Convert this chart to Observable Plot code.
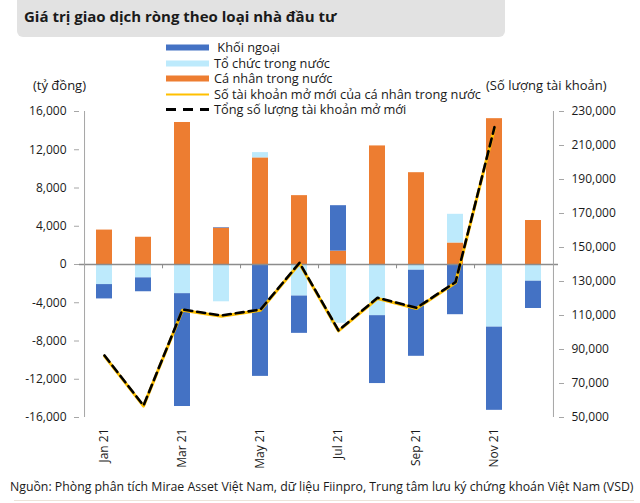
<!DOCTYPE html>
<html><head><meta charset="utf-8">
<script src="https://cdn.jsdelivr.net/npm/d3@7"></script>
<script src="https://cdn.jsdelivr.net/npm/@observablehq/plot@0.6"></script>
<style>
body{margin:0;background:#fff;font-family:"Open Sans",sans-serif;color:#1a1a1a;}
#wrap{position:relative;width:640px;height:503px;overflow:hidden;}
#title{position:absolute;left:17px;top:0;width:488px;height:37px;background:#e2e2e2;border-radius:0 0 6px 6px;}
#title span{position:absolute;left:7px;top:7px;font-weight:700;font-size:15px;line-height:18px;white-space:nowrap;}
#legend{position:absolute;left:166px;top:40px;font-size:12.8px;}
.row{height:15.5px;display:flex;align-items:center;white-space:pre;}
.row span{display:inline-block;line-height:13px;height:13px;}
.sw{width:43px;height:15px;margin-right:5px;position:relative;}
.unit{position:absolute;font-size:13px;line-height:14px;white-space:nowrap;}
#caption{position:absolute;left:10px;top:480px;font-size:12.3px;line-height:14px;white-space:nowrap;}
#rule{position:absolute;left:14px;right:6px;top:500px;height:1px;background:#ece4da;}
#chart{position:absolute;left:0;top:0;}
</style></head>
<body><div id="wrap">
<div id="chart"></div>
<div id="title"><span></span></div>
<div id="legend"></div>
<div class="unit" id="uL" style="left:33px;top:78px"></div>
<div class="unit" id="uR" style="left:486px;top:78px"></div>
<div id="caption"></div>
<div id="rule"></div>
</div>
<script>
const titleText = "Giá trị giao dịch ròng theo loại nhà đầu tư";
const captionText = "Nguồn: Phòng phân tích Mirae Asset Việt Nam, dữ liệu Fiinpro, Trung tâm lưu ký chứng khoán Việt Nam (VSD)";
const leftUnit = "(tỷ đồng)";
const rightUnit = "(Số lượng tài khoản)";

const months = ["Jan 21","Feb 21","Mar 21","Apr 21","May 21","Jun 21","Jul 21","Aug 21","Sep 21","Oct 21","Nov 21","Dec 21"];
const xTickLabels = ["Jan 21","Mar 21","May 21","Jul 21","Sep 21","Nov 21"];

const seriesNames = ["Khối ngoại","Tổ chức trong nước","Cá nhân trong nước"];
const khoiNgoai = [-1500,-1450,-11800,60,-11700,-3900,4750,-7100,-9000,-5250,-8700,-2850];
const toChuc    = [-2100,-1400,-3050,-3900,550,-3300,-6150,-5350,-600,3000,-6550,-1750];
const caNhan    = [3600,2850,14850,3800,11150,7200,1400,12400,9600,2250,15250,4600];

const lineNames = ["Số tài khoản mở mới của cá nhân trong nước","Tổng số lượng tài khoản mở mới"];
const lineMonths = months.slice(0, 11);
const tkCaNhan = [86100,56700,113100,109600,113100,140600,100900,120000,114100,129200,220300];
const tkTong   = [86500,57000,113500,110000,113500,141000,101200,120400,114500,129600,220800];

const leftTicks = [-16000,-12000,-8000,-4000,0,4000,8000,12000,16000];
const rightTicks = [50000,70000,90000,110000,130000,150000,170000,190000,210000,230000];

const colors = {"Khối ngoại":"#4472c4","Tổ chức trong nước":"#bdeafc","Cá nhân trong nước":"#ed7d31"};
const lineColors = ["#ffc000","#000000"];

// mapping right axis onto left
const L0 = -16000, L1 = 16000, R0 = 50000, R1 = 230000;
const toLeft = v => L0 + (v - R0) * (L1 - L0) / (R1 - R0);
const fromLeft = v => R0 + (v - L0) * (R1 - R0) / (L1 - L0);
const fmt = d => (d < 0 ? "-" : "") + d3.format(",")(Math.abs(Math.round(d)));

const bars = [];
months.forEach((m, i) => {
  bars.push({month: m, series: "Cá nhân trong nước", value: caNhan[i]});
  bars.push({month: m, series: "Tổ chức trong nước", value: toChuc[i]});
  bars.push({month: m, series: "Khối ngoại", value: khoiNgoai[i]});
});
const lines = lineMonths.map((m, i) => ({month: m, caNhan: tkCaNhan[i], tong: tkTong[i]}));

const W = 640, H = 470, mL = 79, mR = 82, mT = 111, mB = 53;
const step = (W - mL - mR) / months.length;

const chart = Plot.plot({
  width: W, height: H,
  marginLeft: mL, marginRight: mR, marginTop: mT, marginBottom: mB,
  style: {fontFamily: "Open Sans", fontSize: "12px", color: "#1a1a1a", background: "transparent"},
  x: {domain: months, paddingInner: 0.6, paddingOuter: 0.3, axis: null},
  y: {domain: [L0, L1], axis: null},
  color: {domain: seriesNames, range: seriesNames.map(s => colors[s])},
  marks: [
    Plot.barY(bars, Plot.stackY({x: "month", y: "value", fill: "series", order: ["Cá nhân trong nước","Tổ chức trong nước","Khối ngoại"]})),
    Plot.ruleY([0], {stroke: "#8c8c8c", strokeWidth: 1.3}),
    Plot.ruleX(xTickLabels, {x: d => d, y1: 0, y2: -450, dx: -step/2, stroke: "#8c8c8c"}),
    Plot.ruleX([months[0]], {x: d => d, y1: L0, y2: L1, dx: -step/2, stroke: "#a6a6a6"}),
    Plot.ruleX([months[months.length-1]], {x: d => d, y1: L0, y2: L1, dx: step/2, stroke: "#a6a6a6"}),
    Plot.line(lines, {x: "month", y: d => toLeft(d.caNhan), stroke: lineColors[0], strokeWidth: 3}),
    Plot.line(lines, {x: "month", y: d => toLeft(d.tong), stroke: lineColors[1], strokeWidth: 2.6, strokeDasharray: "8,5"}),
    Plot.axisY(leftTicks, {anchor: "left", tickSize: 5, tickPadding: 8, tickFormat: fmt, label: null, stroke: "#a6a6a6", fill: "#1a1a1a"}),
    Plot.axisY(rightTicks.map(toLeft), {anchor: "right", tickSize: 5, tickPadding: 8, tickFormat: d => fmt(fromLeft(d)), label: null, stroke: "#a6a6a6", fill: "#1a1a1a"}),
    Plot.axisX(xTickLabels, {anchor: "bottom", tickRotate: -90, tickSize: 0, tickPadding: 11, label: null, fill: "#1a1a1a"})
  ]
});
document.getElementById("chart").appendChild(chart);

document.querySelector("#title span").textContent = titleText;
document.getElementById("caption").textContent = captionText;
document.getElementById("uL").textContent = leftUnit;
document.getElementById("uR").textContent = rightUnit;

const leg = document.getElementById("legend");
const items = [
  {label: " " + seriesNames[0], type: "bar", color: colors[seriesNames[0]]},
  {label: seriesNames[1], type: "bar", color: colors[seriesNames[1]]},
  {label: seriesNames[2], type: "bar", color: colors[seriesNames[2]]},
  {label: lineNames[0], type: "line", color: lineColors[0]},
  {label: lineNames[1], type: "dash", color: lineColors[1]}
];
items.forEach(it => {
  const r = document.createElement("div"); r.className = "row";
  const s = document.createElement("div"); s.className = "sw";
  const svg = d3.create("svg").attr("width", 43).attr("height", 15);
  if (it.type === "bar") svg.append("rect").attr("x", 0).attr("y", 4.5).attr("width", 43).attr("height", 6).attr("fill", it.color);
  else if (it.type === "line") svg.append("line").attr("x1", 0).attr("x2", 43).attr("y1", 7.5).attr("y2", 7.5).attr("stroke", it.color).attr("stroke-width", 2);
  else svg.append("line").attr("x1", 0).attr("x2", 43).attr("y1", 7.5).attr("y2", 7.5).attr("stroke", it.color).attr("stroke-width", 3).attr("stroke-dasharray", "10,7");
  s.appendChild(svg.node());
  const t = document.createElement("span"); t.textContent = it.label;
  r.appendChild(s); r.appendChild(t); leg.appendChild(r);
});
</script>
</body></html>
